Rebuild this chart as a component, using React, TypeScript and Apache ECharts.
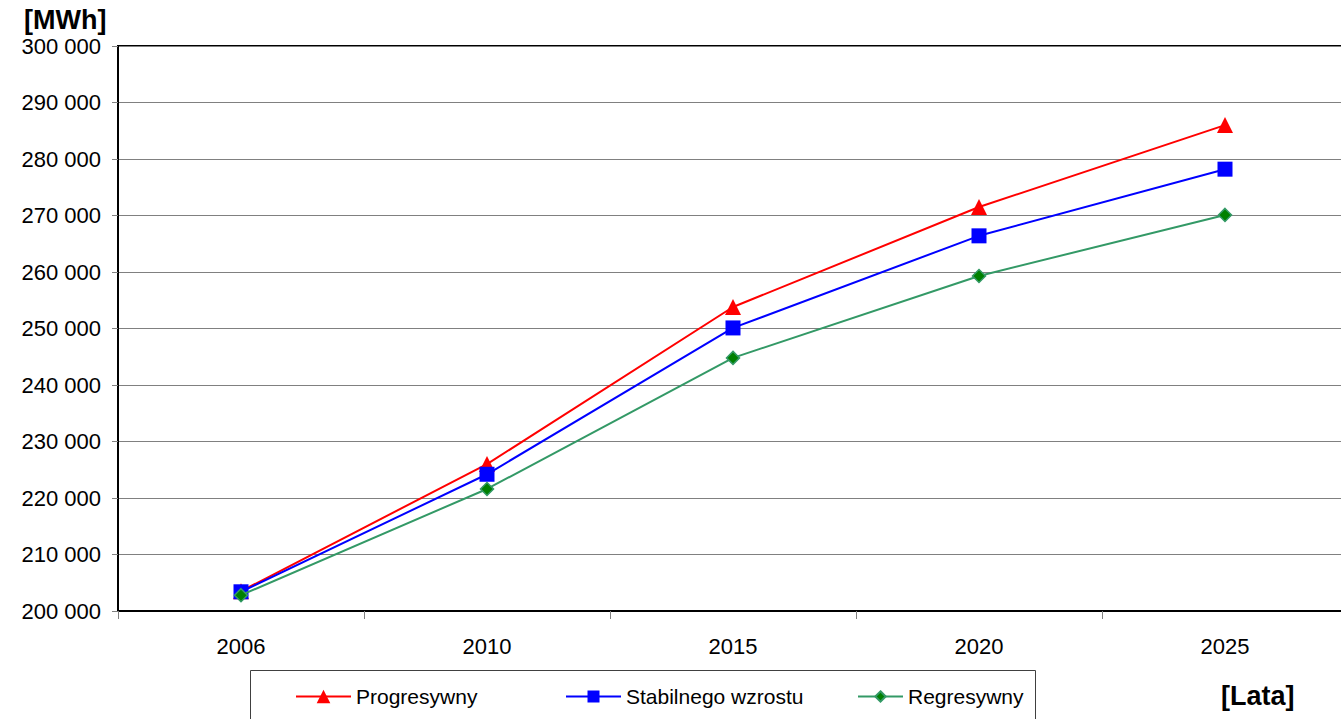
import React, { useEffect, useRef } from "react";
import * as echarts from "echarts";

const years = ["2006", "2010", "2015", "2020", "2025"];
const progresywny = [203500, 226000, 253800, 271500, 286000];
const stabilny = [203400, 224200, 250100, 266400, 278200];
const regresywny = [202800, 221600, 244800, 259300, 270100];

const FONT = "Liberation Sans, Arial, sans-serif";

function fmt(v: number) {
  const s = String(Math.round(v));
  return s.replace(/\B(?=(\d{3})+(?!\d))/g, " ");
}

export default function App() {
  const ref = useRef<HTMLDivElement>(null);
  useEffect(() => {
    const chart = echarts.init(ref.current!, null, { renderer: "svg" });
    chart.setOption({
      animation: false,
      backgroundColor: "#ffffff",
      textStyle: { fontFamily: FONT },
      grid: {
        left: 118,
        top: 46,
        width: 1230,
        height: 565,
        show: true,
        borderColor: "#000000",
        borderWidth: 2,
        containLabel: false,
      },
      xAxis: {
        type: "category",
        data: years,
        boundaryGap: true,
        axisLine: { show: true, lineStyle: { color: "#000000", width: 2 } },
        axisTick: { show: true, length: 8, lineStyle: { color: "#808080", width: 1 } },
        axisLabel: { color: "#000000", fontSize: 22, fontFamily: FONT, margin: 24 },
        splitLine: { show: false },
      },
      yAxis: {
        type: "value",
        min: 200000,
        max: 300000,
        interval: 10000,
        axisLine: { show: true, lineStyle: { color: "#000000", width: 2 } },
        axisTick: { show: true, length: 6, lineStyle: { color: "#808080", width: 1 } },
        axisLabel: {
          color: "#000000",
          fontSize: 22,
          fontFamily: FONT,
          margin: 17,
          formatter: (v: number) => fmt(v),
        },
        splitLine: { show: true, lineStyle: { color: "#808080", width: 1 } },
      },
      legend: [
        {
          data: ["Progresywny"],
          left: 290,
          top: 681,
          itemWidth: 55,
          itemHeight: 17,
          textStyle: { fontSize: 21, fontFamily: FONT, color: "#000" },
        },
        {
          data: ["Stabilnego wzrostu"],
          left: 560,
          top: 681,
          itemWidth: 55,
          itemHeight: 15,
          textStyle: { fontSize: 21, fontFamily: FONT, color: "#000" },
        },
        {
          data: ["Regresywny"],
          left: 852,
          top: 681,
          itemWidth: 45,
          itemHeight: 13,
          textStyle: { fontSize: 21, fontFamily: FONT, color: "#000" },
        },
      ],
      graphic: [
        {
          type: "rect",
          shape: { x: 250.5, y: 670.5, width: 785, height: 60 },
          style: { fill: "none", stroke: "#404040", lineWidth: 1 },
          z: 0,
        },
        {
          type: "text",
          x: 24,
          y: 6,
          style: { text: "[MWh]", font: `bold 27px ${FONT}`, fill: "#000" },
        },
        {
          type: "text",
          x: 1221,
          y: 682,
          style: { text: "[Lata]", font: `bold 27px ${FONT}`, fill: "#000" },
        },
      ],
      series: [
        {
          name: "Progresywny",
          type: "line",
          data: progresywny,
          symbol: "triangle",
          symbolSize: 16,
          lineStyle: { color: "#ff0000", width: 2 },
          itemStyle: { color: "#ff0000" },
          z: 3,
        },
        {
          name: "Stabilnego wzrostu",
          type: "line",
          data: stabilny,
          symbol: "rect",
          symbolSize: 15,
          lineStyle: { color: "#0000ff", width: 2 },
          itemStyle: { color: "#0000ff" },
          z: 4,
        },
        {
          name: "Regresywny",
          type: "line",
          data: regresywny,
          symbol: "diamond",
          symbolSize: 13,
          lineStyle: { color: "#339966", width: 2 },
          itemStyle: { color: "#008000", borderColor: "#339966", borderWidth: 1.5 },
          z: 5,
        },
      ],
    });
    return () => chart.dispose();
  }, []);
  return (
    <div
      style={{
        position: "fixed",
        left: 0,
        top: 0,
        width: 1341,
        height: 719,
        overflow: "hidden",
        background: "#fff",
      }}
    >
      <div ref={ref} style={{ width: 1380, height: 719 }} />
    </div>
  );
}
